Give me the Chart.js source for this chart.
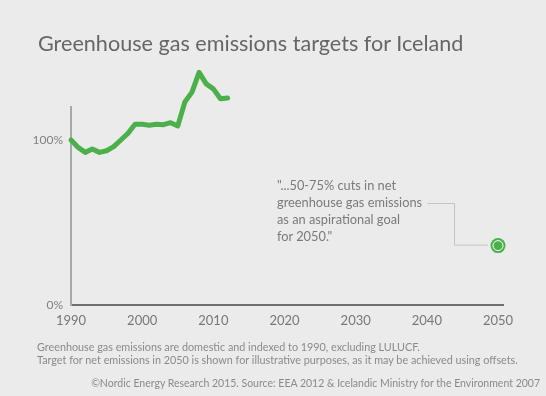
<!DOCTYPE html>
<html>
<head>
<meta charset="utf-8">
<script src="https://cdn.jsdelivr.net/npm/chart.js@4"></script>
<style>
    body { margin: 0; background: #ebebeb; font-family: Lato, "Open Sans", sans-serif; }
    #wrap { position: relative; width: 546px; height: 396px; overflow: hidden; }
    canvas { position: absolute; left: 0; top: 0; }
    .txt { position: absolute; color: #777; white-space: nowrap; }
    #title { left: 38px; top: 30px; font-size: 21.6px; color: #666; }
    #note { left: 277px; top: 177px; font-size: 12.8px; line-height: 17px; color: #7a7a7a; }
    #foot { left: 37px; top: 340px; font-size: 10.8px; line-height: 13px; color: #8a8a8a; }
    #source { right: 6px; top: 377px; font-size: 10.5px; color: #8a8a8a; }
</style>
</head>
<body>
<div id="wrap">
    <canvas id="chart" width="546" height="396"></canvas>
    <div class="txt" id="title">Greenhouse gas emissions targets for Iceland</div>
    <div class="txt" id="note">"...50-75% cuts in net<br>greenhouse gas emissions<br>as an aspirational goal<br>for 2050."</div>
    <div class="txt" id="foot">Greenhouse gas emissions are domestic and indexed to 1990, excluding LULUCF.<br>Target for net emissions in 2050 is shown for illustrative purposes, as it may be achieved using offsets.</div>
    <div class="txt" id="source">©Nordic Energy Research 2015. Source: EEA 2012 &amp; Icelandic Ministry for the Environment 2007</div>
</div>
<script>
// Emissions indexed to 1990 (%)
const years = [1990, 1991, 1992, 1993, 1994, 1995, 1996, 1997, 1998, 1999, 2000,
    2001, 2002, 2003, 2004, 2005, 2006, 2007, 2008, 2009, 2010, 2011, 2012];
const emissions = [100, 95.5, 92.5, 94.5, 92.5, 93.5, 96, 100, 104, 109.5, 109.5,
    109, 109.5, 109.3, 110.5, 108.5, 123, 129, 141, 134, 131, 125, 125.5];

// 2050 aspirational target
const targetYear = [2050];
const targetValue = [36];

const xTicks = [1990, 2000, 2010, 2020, 2030, 2040, 2050];
const yTicks = [0, 100];

const green = "#4bb04a";

// Connector from the quote to the target dot
const connector = {
    id: "connector",
    afterDatasetsDraw(chart) {
        let ctx = chart.ctx;
        let px = chart.scales.x.getPixelForValue(targetYear[0]);
        let py = chart.scales.y.getPixelForValue(targetValue[0]);
        ctx.save();
        ctx.strokeStyle = "#c4c4c4";
        ctx.lineWidth = 1;
        ctx.beginPath();
        ctx.moveTo(px - 70.5, 203.5);
        ctx.lineTo(px - 43.5, 203.5);
        ctx.lineTo(px - 43.5, py - 0.5);
        ctx.lineTo(px - 10, py - 0.5);
        ctx.stroke();
        ctx.restore();
    }
};

let ctx = document.getElementById("chart").getContext("2d");

new Chart(ctx, {
    type: "line",
    data: {
        datasets: [
            {
                data: years.map((y, i) => ({ x: y, y: emissions[i] })),
                borderColor: green,
                borderWidth: 5,
                borderCapStyle: "round",
                borderJoinStyle: "round",
                pointRadius: 0,
                tension: 0,
                clip: false
            },
            {
                data: targetYear.map((y, i) => ({ x: y, y: targetValue[i] })),
                showLine: false,
                pointRadius: 7.5,
                pointBackgroundColor: green,
                pointBorderWidth: 0,
                order: 1,
                clip: false
            },
            {
                data: targetYear.map((y, i) => ({ x: y, y: targetValue[i] })),
                showLine: false,
                pointRadius: 5,
                pointBackgroundColor: "rgba(0,0,0,0)",
                pointBorderColor: "#ffffff",
                pointBorderWidth: 1,
                order: -1,
                clip: false
            }
        ]
    },
    options: {
        responsive: false,
        animation: false,
        layout: { padding: { left: 0, top: 107, right: 43, bottom: 66 } },
        plugins: {
            legend: { display: false },
            tooltip: { enabled: false }
        },
        scales: {
            x: {
                type: "linear",
                min: 1990,
                max: 2050.7,
                afterBuildTicks: (s) => { s.ticks = xTicks.map(v => ({ value: v })); },
                afterFit: (s) => { s.height = 25; },
                grid: { display: false },
                border: { color: "#6e6e6e", width: 2 },
                ticks: {
                    padding: 0,
                    color: "#777",
                    font: { family: "Lato", size: 13 },
                    callback: (v) => String(v)
                }
            },
            y: {
                min: 0,
                max: 120,
                afterBuildTicks: (s) => { s.ticks = yTicks.map(v => ({ value: v })); },
                afterFit: (s) => { s.width = 71; },
                grid: { display: false },
                border: { color: "#a8a8a8", width: 2 },
                ticks: {
                    padding: 0,
                    color: "#808080",
                    font: { family: "Lato", size: 12 },
                    callback: (v) => v + "%"
                }
            }
        }
    },
    plugins: [connector]
});
</script>
</body>
</html>
